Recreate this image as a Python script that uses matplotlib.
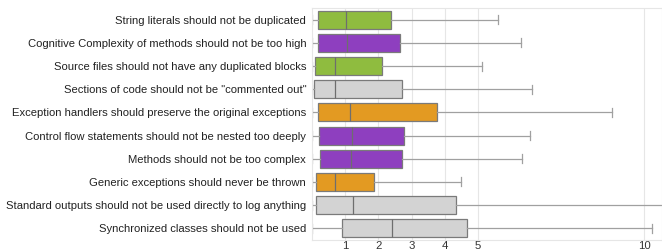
import matplotlib
matplotlib.use("Agg")
import matplotlib.pyplot as plt

plt.rcParams['font.family'] = ['Liberation Sans', 'DejaVu Sans']

labels = [
    "String literals should not be duplicated",
    "Cognitive Complexity of methods should not be too high",
    "Source files should not have any duplicated blocks",
    "Sections of code should not be \"commented out\"",
    "Exception handlers should preserve the original exceptions",
    "Control flow statements should not be nested too deeply",
    "Methods should not be too complex",
    "Generic exceptions should never be thrown",
    "Standard outputs should not be used directly to log anything",
    "Synchronized classes should not be used",
]
whislo = [0, 0, 0, 0, 0, 0, 0, 0, 0, 0]
q1 = [0.20, 0.20, 0.10, 0.08, 0.20, 0.21, 0.24, 0.14, 0.13, 0.90]
med = [1.02, 1.05, 0.71, 0.71, 1.14, 1.20, 1.17, 0.70, 1.23, 2.41]
q3 = [2.38, 2.65, 2.12, 2.71, 3.76, 2.77, 2.71, 1.88, 4.35, 4.66]
whishi = [5.59, 6.28, 5.11, 6.62, 9.03, 6.55, 6.33, 4.48, 11.5, 10.23]
groups = ["green", "purple", "green", "gray", "orange", "purple", "purple", "orange", "gray", "gray"]
palette = {"green": "#8fbc3f", "purple": "#8e3fbf", "orange": "#e39a22", "gray": "#d3d3d3"}
xticks = [1, 2, 3, 4, 5, 10]

fig = plt.figure(figsize=(6.62, 2.52), dpi=100)
ax = fig.add_axes([0.471, 0.048, 0.529, 0.92])

stats = []
for i in range(len(labels)):
    stats.append(dict(label=labels[i], whislo=whislo[i], q1=q1[i], med=med[i],
                      q3=q3[i], whishi=whishi[i], fliers=[]))

pos = list(range(len(labels)))[::-1]
bp = ax.bxp(stats, positions=pos, vert=False, widths=0.78, patch_artist=True,
            showfliers=False,
            boxprops=dict(edgecolor="#7a7a7a", linewidth=0.9),
            medianprops=dict(color="#6e6e6e", linewidth=0.9),
            whiskerprops=dict(color="#a0a0a0", linewidth=0.9),
            capprops=dict(color="#a0a0a0", linewidth=0.9))
for patch, g in zip(bp['boxes'], groups):
    patch.set_facecolor(palette[g])

ax.set_xlim(0, 10.53)
ax.set_ylim(-0.5, 9.5)
ax.set_xticks(xticks)
ax.set_xticklabels([str(t) for t in xticks], fontsize=8.2, color="#333333")
ax.set_yticks(pos)
ax.set_yticklabels(labels, fontsize=8.1, color="#222222")
ax.tick_params(axis='y', length=0, pad=4)
ax.tick_params(axis='x', length=0, pad=1)
ax.grid(axis='x', color="#e6e6e6", linewidth=0.8)
ax.set_axisbelow(True)
for s in ['top', 'right', 'bottom', 'left']:
    ax.spines[s].set_color("#e6e6e6")
    ax.spines[s].set_linewidth(0.8)

fig.savefig("out.png", dpi=100)
